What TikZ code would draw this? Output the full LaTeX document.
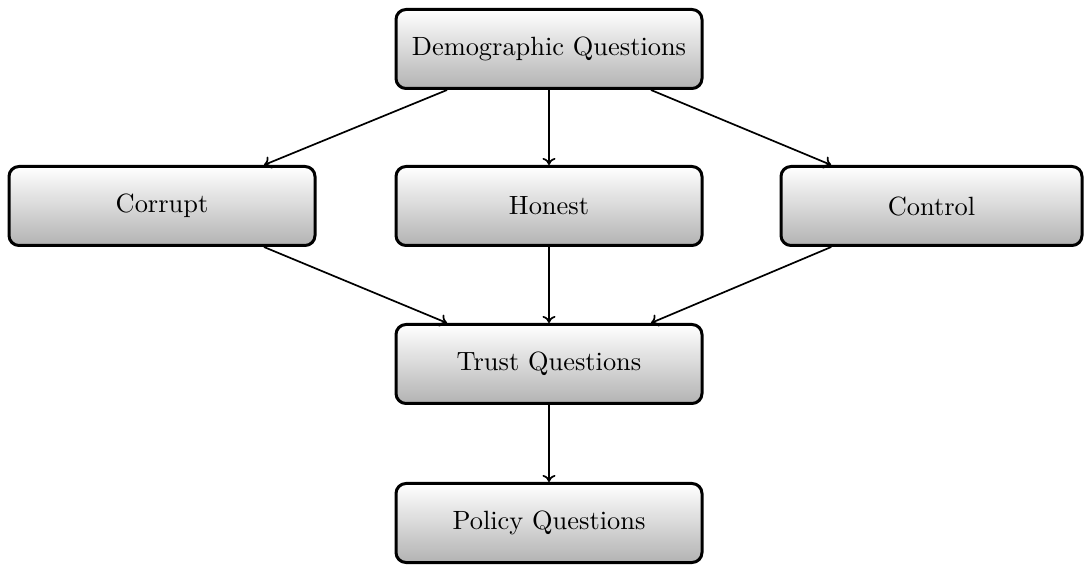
\documentclass[tikz,border=0pt]{standalone}
\usepackage{graphicx}
\usetikzlibrary{calc,arrows.meta}
\newcommand{\bigtxt}[1]{\scalebox{2.64}{#1}}
\begin{document}
\begin{tikzpicture}[x=1pt,y=1pt,
  box/.style={draw=black,line width=3pt,rounded corners=10pt,top color=white,bottom color=black!30,
    minimum width=306pt,minimum height=79pt,inner sep=0pt},
  conn/.style={-{To[length=7pt,width=13pt]},line width=1.7pt}]
\useasboundingbox (0,0) rectangle (1084,565);
\node[box] (demo) at (549,516) {\bigtxt{Demographic Questions}};
\node[box] (corrupt) at (162,359) {\bigtxt{Corrupt}};
\node[box] (honest) at (549,359) {\bigtxt{Honest}};
\node[box,minimum width=301pt] (control) at (931.5,359) {\bigtxt{Control}};
\node[box] (trust) at (549,201) {\bigtxt{Trust Questions}};
\node[box] (policy) at (549,42) {\bigtxt{Policy Questions}};
\draw[conn] ($(demo.south west)!0.17!(demo.south east)$) -- ($(corrupt.north west)!0.83!(corrupt.north east)$);
\draw[conn] (demo.south) -- (honest.north);
\draw[conn] ($(demo.south west)!0.83!(demo.south east)$) -- ($(control.north west)!0.17!(control.north east)$);
\draw[conn] ($(corrupt.south west)!0.83!(corrupt.south east)$) -- ($(trust.north west)!0.17!(trust.north east)$);
\draw[conn] (honest.south) -- (trust.north);
\draw[conn] ($(control.south west)!0.17!(control.south east)$) -- ($(trust.north west)!0.83!(trust.north east)$);
\draw[conn] (trust.south) -- (policy.north);
\end{tikzpicture}
\end{document}
